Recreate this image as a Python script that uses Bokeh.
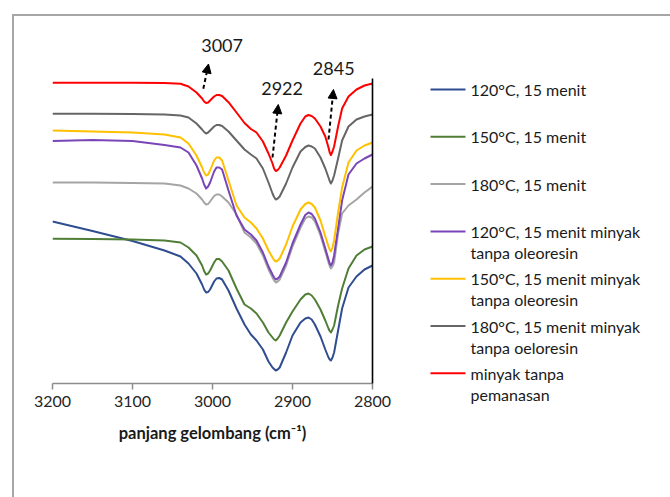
from bokeh.plotting import figure
from bokeh.models import Range1d, LinearAxis, FixedTicker, Arrow, NormalHead
from bokeh.layouts import row
from bokeh.embed import file_html
from bokeh.resources import INLINE
from bokeh.core.properties import value

# ---------------- data ----------------
wavenumber = [3200, 3150, 3100, 3060, 3040, 3030, 3020, 3013, 3010.5, 3008,
              3005.5, 3003, 2998, 2995, 2991.5, 2988, 2980, 2970, 2960, 2952,
              2945, 2937, 2930, 2925, 2923, 2921, 2918.5, 2916, 2908, 2900,
              2890, 2884, 2880, 2876, 2872, 2865, 2859, 2855, 2853.5, 2852,
              2850, 2848, 2843, 2838, 2830, 2820, 2810, 2800]

t120_15 = [162, 152.5, 142.5, 133, 127, 120, 110, 99, 94, 91,
           91.5, 94, 102, 105, 105.5, 104, 93, 75, 59, 49,
           43, 34, 22, 16, 14.5, 13, 14, 16, 31, 48,
           61, 65, 66, 64, 59, 47, 34, 26, 24, 23,
           26, 31, 53, 75, 96, 107, 114, 118]
t150_15 = [144.7, 144.5, 144, 143, 141, 136, 128, 118, 112.5, 109,
           110, 113, 121, 124.5, 124.5, 122, 113, 95, 79, 75,
           70, 61, 51, 46, 44, 43, 45, 48, 61, 72,
           84, 89, 90, 88, 84, 74, 63, 55, 52.5, 51,
           54, 58, 78, 95, 115, 128, 134, 137]
t180_15 = [201, 201, 200.5, 200, 198, 195, 190, 184, 181, 179,
           179.5, 182, 187.5, 189, 189, 187, 181, 169, 151, 146,
           140, 128, 114, 106, 103, 101, 102, 104, 118, 137,
           156, 165, 167, 166, 162, 148, 132, 121, 117.5, 115,
           117, 121, 150, 170, 178, 184, 191, 197]
t120_m = [242.5, 243.5, 242.5, 238.5, 236, 231, 218, 205, 199, 195,
          197, 201, 212, 216, 216, 214, 193, 168, 154, 149,
          143, 131, 117, 109, 106, 104, 105, 107, 121, 140,
          159, 168.5, 171, 169.5, 165, 151, 135, 124, 120, 118,
          121, 128, 155, 183, 209, 220, 225, 229]
t150_m = [253, 252, 251, 249, 246, 240, 228, 216, 211, 208,
          209, 213, 223, 226, 226, 223, 203, 178, 166, 161,
          155, 145, 133, 126, 123.5, 122, 123, 125, 139, 157,
          174, 179.5, 181, 179.5, 176, 163, 147, 137, 134, 132,
          136, 143, 171, 196, 221, 233, 238, 241]
t180_m = [269.7, 269.7, 269.5, 269, 268, 266, 260, 254, 251.5, 250,
          251, 253, 257, 258.5, 258.5, 257.5, 252, 243, 234, 229,
          225, 215, 201, 190, 186.5, 184, 185, 187, 200, 216,
          232, 236.5, 238, 237, 235, 226, 215, 206, 202.5, 200,
          203, 208, 225, 243, 257, 264, 267, 269]
raw_oil = [300.7, 300.7, 300.7, 300.5, 299.7, 297, 291, 285, 282, 280.5,
           281, 283, 287, 288.5, 288.5, 287.5, 281.3, 271, 260.5, 254.5,
           251, 242, 230, 220, 215, 212.5, 213.5, 216, 228, 243,
           260, 267, 268.5, 267.5, 265, 257, 247, 236, 231, 228.5,
           232, 237, 257, 275, 287, 294, 298, 300]

series = [t120_15, t150_15, t180_15, t120_m, t150_m, t180_m, raw_oil]
series_colors = ["#2F4D8F", "#507E36", "#A5A5A5", "#7A45B8", "#FFC000", "#666666", "#FF0000"]
legend_line1 = ["120°C, 15 menit", "150°C, 15 menit", "180°C, 15 menit",
                "120°C, 15 menit minyak", "150°C, 15 menit minyak",
                "180°C, 15 menit minyak", "minyak tanpa"]
legend_line2 = ["", "", "", "tanpa oleoresin", "tanpa oleoresin",
                "tanpa oeloresin", "pemanasan"]

x_ticks = [3200, 3100, 3000, 2900, 2800]
peak_labels = ["3007", "2922", "2845"]

FONT = "Lato"

# ---------------- main spectrum plot ----------------
p = figure(width=386, height=443,
           x_range=Range1d(3200, 2800), y_range=Range1d(0, 353),
           output_backend="svg", toolbar_location=None,
           y_axis_location=None,
           min_border_left=38, min_border_right=28,
           min_border_top=14, min_border_bottom=76)
p.outline_line_color = None
p.grid.visible = False
p.background_fill_color = "white"
p.border_fill_color = "white"

xa = p.xaxis[0]
xa.ticker = FixedTicker(ticks=x_ticks)
xa.axis_line_color = "#8C8C8C"
xa.axis_line_width = 1.5
xa.major_tick_line_color = "#8C8C8C"
xa.major_tick_line_width = 1.5
xa.major_tick_in = 0
xa.major_tick_out = 6
xa.minor_tick_line_color = None
xa.major_label_text_font = FONT
xa.major_label_text_font_size = "16px"
xa.major_label_text_color = "#262626"
xa.major_label_standoff = 6
xa.axis_label = "panjang gelombang (cm⁻¹)"
xa.axis_label_text_font = FONT
xa.axis_label_text_font_size = "16.5px"
xa.axis_label_text_font_style = "bold"
xa.axis_label_text_color = "#1a1a1a"
xa.axis_label_standoff = 13

ra = LinearAxis(bounds=(0, 305), ticker=FixedTicker(ticks=[]),
                major_tick_out=0, major_tick_in=0, minor_tick_out=0,
                major_label_text_font_size="0px",
                axis_line_color="#000000", axis_line_width=1.6)
p.add_layout(ra, "right")

for ys, c in zip(series, series_colors):
    p.line(wavenumber, ys, line_color=c, line_width=2, line_join="round")

label_x = [2988, 2913, 2848.5]
label_y = [338, 294.7, 314.7]
p.text(x=label_x, y=label_y, text=peak_labels, text_font=value(FONT),
       text_font_size="18px", text_align="center", text_baseline="middle",
       text_color="#1a1a1a")

arrow_start = [(3011.5, 294.7), (2925, 226), (2855, 244)]
arrow_end = [(3005, 319.5), (2917.8, 279), (2848.8, 294)]
for (xs, ys), (xe, ye) in zip(arrow_start, arrow_end):
    p.add_layout(Arrow(end=NormalHead(size=9, fill_color="black", line_color="black", line_width=1),
                       x_start=xs, y_start=ys, x_end=xe, y_end=ye,
                       line_color="black", line_width=2, line_dash="4 3"))

# ---------------- legend panel ----------------
lf = figure(width=270, height=481, x_range=Range1d(400, 670), y_range=Range1d(421, 30),
            output_backend="svg", toolbar_location=None,
            x_axis_location=None, y_axis_location=None,
            min_border_left=0, min_border_right=0,
            min_border_top=14, min_border_bottom=76)
lf.outline_line_color = None
lf.grid.visible = False

row_y = [89 + 47.3 * i for i in range(len(legend_line1))]
lf.segment(x0=[430] * len(row_y), y0=row_y, x1=[465] * len(row_y), y1=row_y,
           line_color=series_colors, line_width=2)
lf.text(x=[470] * len(row_y), y=row_y, text=legend_line1, text_font=value(FONT),
        text_font_size="16px", text_baseline="middle", text_color="#1a1a1a")
lf.text(x=[470] * len(row_y), y=[y + 21 for y in row_y], text=legend_line2, text_font=value(FONT),
        text_font_size="16px", text_baseline="middle", text_color="#1a1a1a")

layout = row(p, lf, styles={"margin-top": "14px", "margin-left": "12px",
                            "border-top": "2px solid #A6A6A6",
                            "border-left": "2px solid #A6A6A6"})

open("out.html", "w").write(file_html(layout, INLINE))
